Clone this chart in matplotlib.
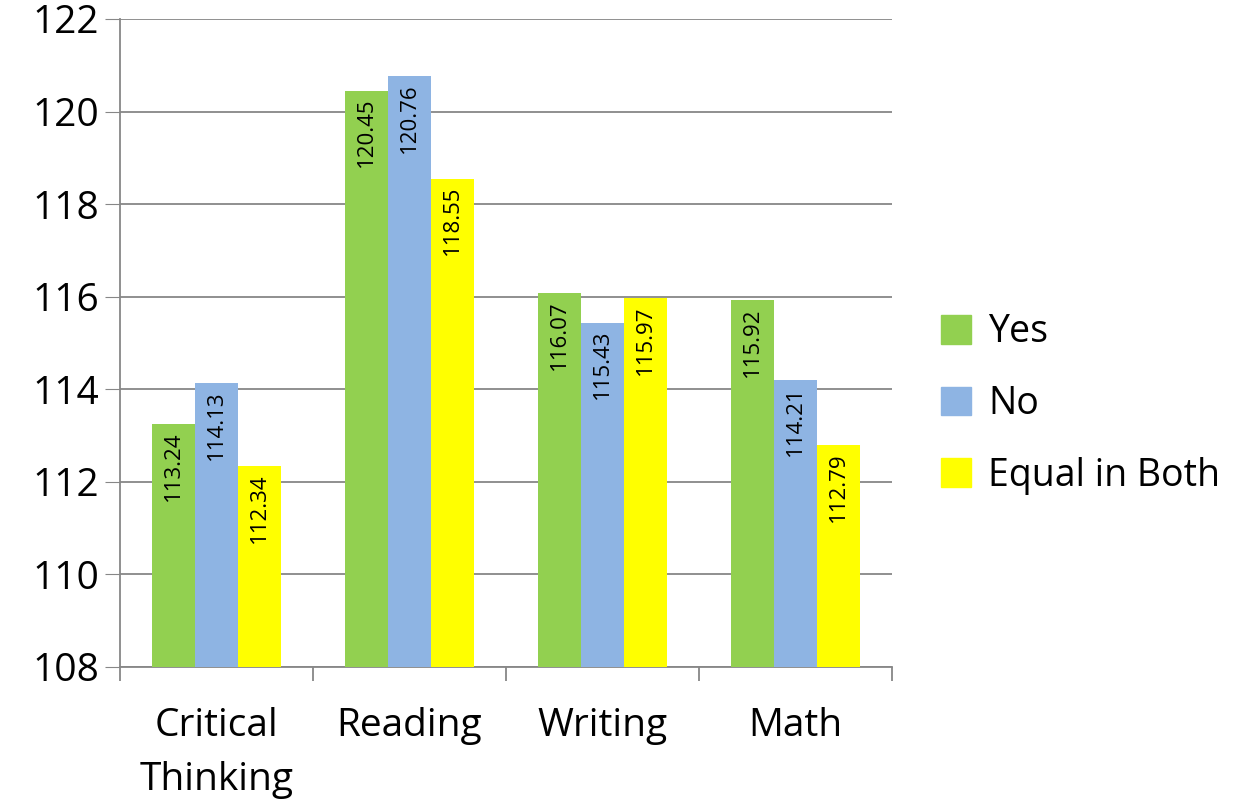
import numpy as np
import matplotlib.pyplot as plt
from matplotlib.patches import Patch

categories = ["Critical\nThinking", "Reading", "Writing", "Math"]
series = ["Yes", "No", "Equal in Both"]
yes_vals = [113.24, 120.45, 116.07, 115.92]
no_vals = [114.13, 120.76, 115.43, 114.21]
equal_vals = [112.34, 118.55, 115.97, 112.79]
colors = ["#92D050", "#8EB4E3", "#FFFF00"]

plt.rcParams['font.family'] = ['Open Sans', 'DejaVu Sans']

fig = plt.figure(figsize=(12.4, 8.07), dpi=100)
ax = fig.add_axes([120 / 1240, 140 / 807, 772 / 1240, 648 / 807])

x = np.arange(len(categories))
w = 0.223
base = 108
for i, vals in enumerate([yes_vals, no_vals, equal_vals]):
    pos = x + (i - 1) * w
    heights = np.array(vals) - base
    ax.bar(pos, heights, w, bottom=base, color=colors[i], zorder=3)
    for p, v in zip(pos, vals):
        ax.annotate(f"{v:.2f}", (p, v), xytext=(0, -5), textcoords="offset points",
                    rotation=90, ha="center", va="top", fontsize=16, zorder=4)

ax.set_ylim(108, 122)
ax.set_xlim(-0.5, len(categories) - 0.5)
ax.set_yticks(np.arange(108, 123, 2))
ax.tick_params(axis='y', labelsize=28, length=11, color='#878787', pad=4)
ax.yaxis.grid(True, color='#878787', linewidth=1.3, zorder=0)

ax.set_xticks(np.arange(-0.5, len(categories), 1))
ax.set_xticklabels([])
ax.set_xticks(x, minor=True)
ax.set_xticklabels(categories, minor=True, fontsize=28, linespacing=1.55)
ax.tick_params(axis='x', which='major', length=10, color='#878787', width=1.3)
ax.tick_params(axis='x', which='minor', length=0, pad=29)

for s in ['top', 'right']:
    ax.spines[s].set_visible(False)
for s in ['left', 'bottom']:
    ax.spines[s].set_color('#878787')
    ax.spines[s].set_linewidth(1.3)

handles = [Patch(color=c, label=s) for c, s in zip(colors, series)]
fig.legend(handles=handles, loc='center left', bbox_to_anchor=(926 / 1240, 1 - 404 / 807),
           frameon=False, fontsize=27, handlelength=0.8, handleheight=0.8,
           handletextpad=0.45, labelspacing=0.9, borderaxespad=0)

fig.savefig("out.png", dpi=100)
